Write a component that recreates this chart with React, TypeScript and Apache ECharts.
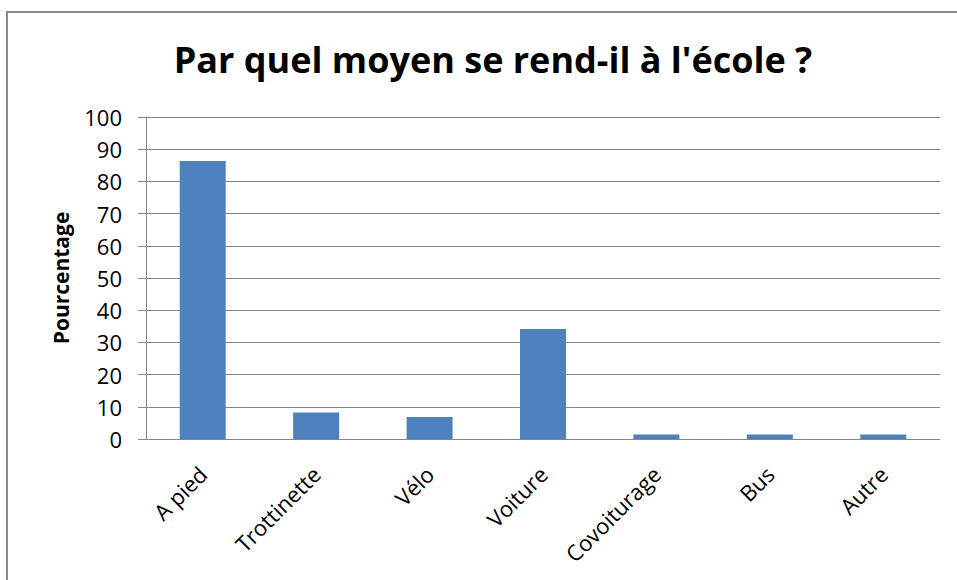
import React, { useEffect, useRef } from "react";
import * as echarts from "echarts";

const categories = ["A pied", "Trottinette", "Vélo", "Voiture", "Covoiturage", "Bus", "Autre"];
const values = [86.3, 8.2, 6.8, 34.2, 1.4, 1.4, 1.4];
const titleText = "Par quel moyen se rend-il à l'école ?";
const yAxisName = "Pourcentage";

export default function App() {
  const ref = useRef<HTMLDivElement>(null);
  useEffect(() => {
    if (!ref.current) return;
    const chart = echarts.init(ref.current, null, { renderer: "svg" });
    const font = "'Open Sans', 'Noto Sans', sans-serif";
    chart.setOption({
      animation: false,
      backgroundColor: "#ffffff",
      textStyle: { fontFamily: font },
      title: {
        text: titleText,
        left: 488,
        textAlign: "center",
        top: 36,
        textStyle: { fontFamily: font, fontSize: 36, fontWeight: "bold", color: "#000" },
      },
      graphic: [
        {
          type: "rect",
          shape: { x: 7, y: 12, width: 1000, height: 700 },
          style: { fill: "none", stroke: "#8a8a8a", lineWidth: 2 },
          silent: true,
        },
      ],
      grid: { left: 146, right: 17, top: 117, bottom: 141 },
      xAxis: {
        type: "category",
        data: categories,
        axisLine: { show: true, lineStyle: { color: "#868686", width: 1 } },
        axisTick: { show: false },
        axisLabel: {
          rotate: 45,
          fontSize: 22,
          color: "#000",
          margin: 31,
          fontFamily: font,
          interval: 0,
        },
      },
      yAxis: {
        type: "value",
        min: 0,
        max: 100,
        interval: 10,
        name: yAxisName,
        nameLocation: "middle",
        nameGap: 75,
        nameTextStyle: { fontFamily: font, fontSize: 21, fontWeight: "bold", color: "#000" },
        axisLine: { show: true, lineStyle: { color: "#868686", width: 1 } },
        axisTick: { show: true, length: 8, lineStyle: { color: "#868686" } },
        axisLabel: { fontSize: 22, color: "#000", margin: 24, fontFamily: font },
        splitLine: { show: true, lineStyle: { color: "#868686", width: 1 } },
      },
      series: [
        {
          type: "bar",
          data: values,
          barWidth: 46,
          itemStyle: { color: "#4F81BD" },
        },
      ],
    });
    return () => chart.dispose();
  }, []);
  return (
    <div
      ref={ref}
      style={{ position: "fixed", left: 0, top: 0, width: 957, height: 580 }}
    />
  );
}
